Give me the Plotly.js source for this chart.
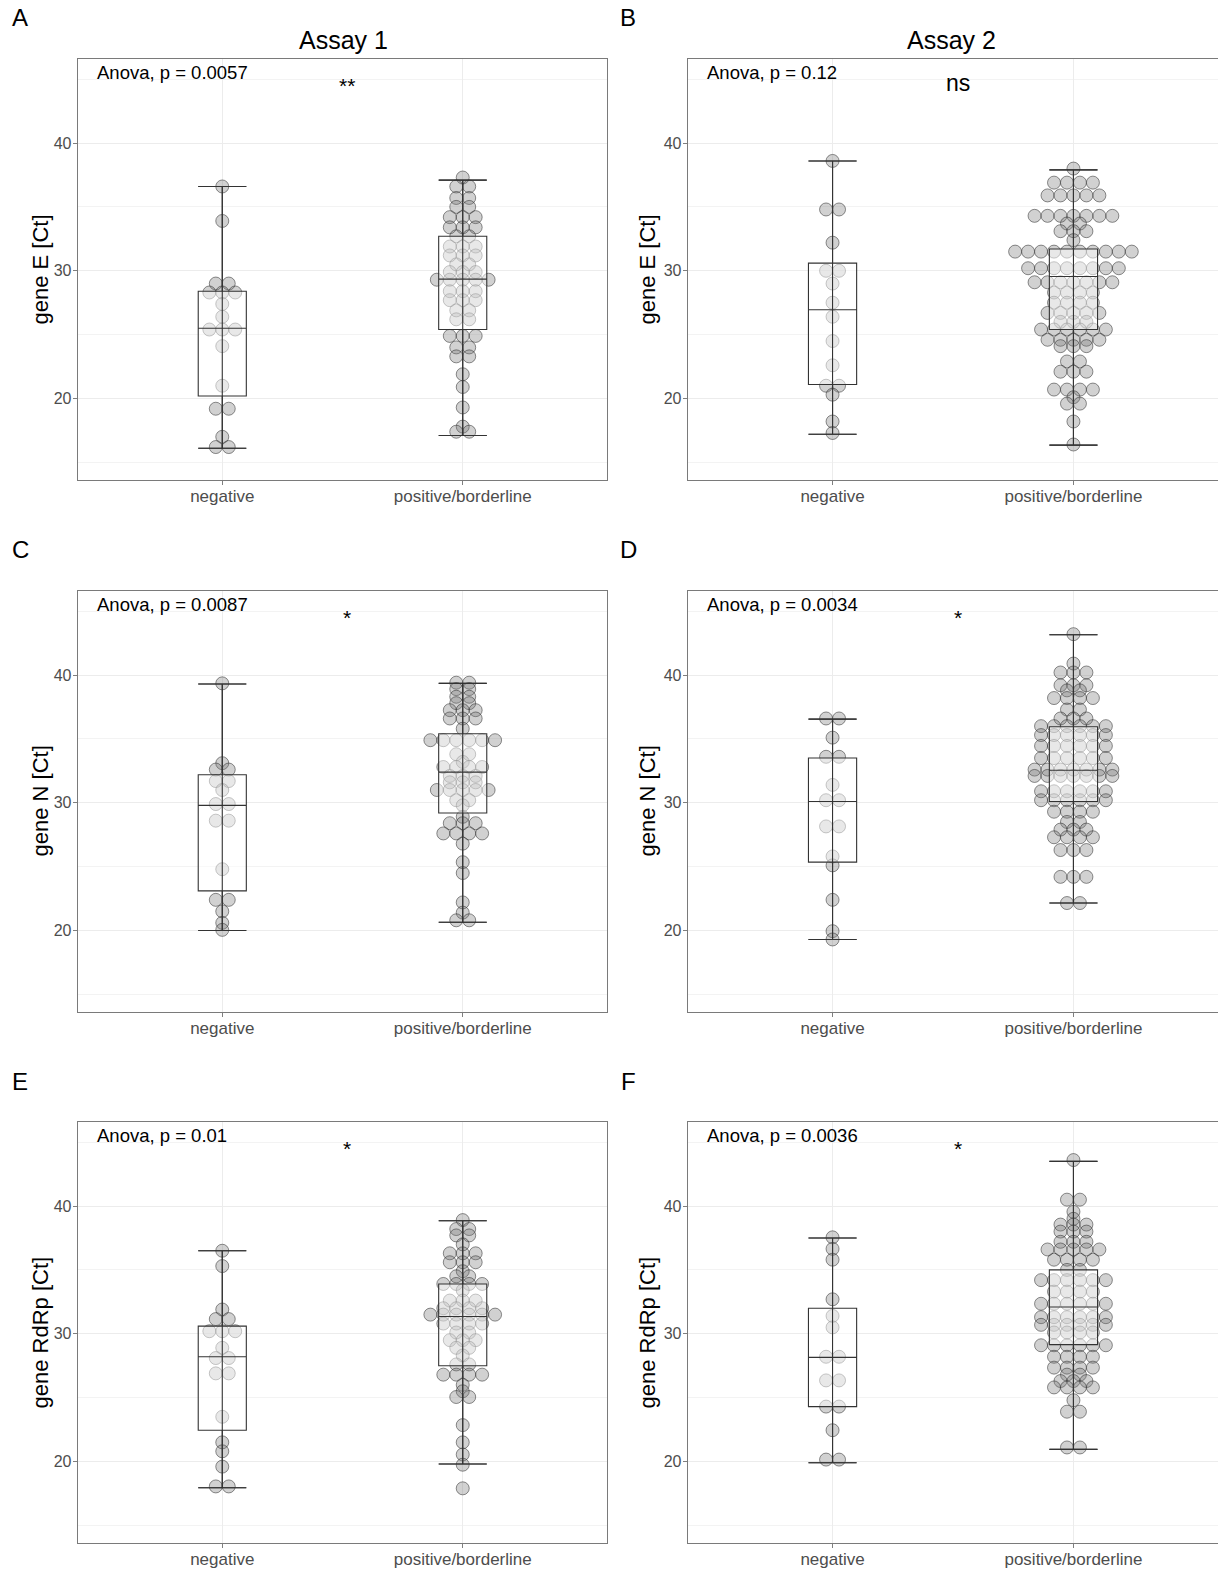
<!DOCTYPE html>
<html>
<head>
<meta charset="utf-8">
<script src="https://cdn.plot.ly/plotly-3.0.1.min.js"></script>
<style>html,body{margin:0;padding:0;background:#fff;}#chart{width:1218px;height:1573px;}</style>
</head>
<body>
<div id="chart"></div>
<script>
// ---------------- DATA ----------------
const categories = ['negative', 'positive/borderline'];
const yTicks = [20, 30, 40];
const panelLetters = ['A', 'B', 'C', 'D', 'E', 'F'];
const assayTitles = ['Assay 1', 'Assay 2'];
const yTitles = ['gene E [Ct]', 'gene E [Ct]', 'gene N [Ct]', 'gene N [Ct]', 'gene RdRp [Ct]', 'gene RdRp [Ct]'];
const anovaLabels = ['Anova, p = 0.0057', 'Anova, p = 0.12', 'Anova, p = 0.0087', 'Anova, p = 0.0034', 'Anova, p = 0.01', 'Anova, p = 0.0036'];
const sigLabels = ['**', 'ns', '*', '*', '*', '*'];

// Ct values (dot-plot bins), negative / positive groups
const A_neg = [36.6, 33.9, 29.0, 29.0, 28.3, 28.3, 28.3, 27.4, 26.4, 25.4, 25.4, 25.4, 24.1, 21.0, 19.2, 19.2, 17.0, 16.2, 16.2];
const A_pos = [37.3, 36.6, 36.6, 35.7, 35.7, 35.0, 35.0, 34.2, 34.2, 34.2, 33.4, 33.4, 33.4, 32.7, 32.7,
  31.9, 31.9, 31.9, 31.2, 31.2, 31.2, 30.5, 30.5, 29.9, 29.9, 29.9, 29.3, 29.3, 29.3, 29.3, 29.3,
  28.4, 28.4, 28.4, 27.7, 27.7, 27.7, 26.9, 26.9, 26.2, 26.2, 24.9, 24.9, 24.9, 24.0, 24.0, 23.3, 23.3,
  21.9, 20.9, 19.3, 17.8, 17.4, 17.4];
const B_neg = [38.6, 34.8, 34.8, 32.2, 30.0, 30.0, 29.0, 27.5, 26.4, 24.5, 22.6, 21.0, 21.0, 20.3, 18.2, 17.3];
const B_pos = [38.0, 36.9, 36.9, 36.9, 36.9, 35.9, 35.9, 35.9, 35.9, 35.9,
  34.3, 34.3, 34.3, 34.3, 34.3, 34.3, 34.3, 33.7, 33.7, 33.1, 33.1, 33.1, 32.4,
  31.5, 31.5, 31.5, 31.5, 31.5, 31.5, 31.5, 31.5, 31.5, 31.5,
  30.2, 30.2, 30.2, 30.2, 30.2, 30.2, 30.2, 30.2,
  29.1, 29.1, 29.1, 29.1, 29.1, 29.1, 29.1,
  28.3, 28.3, 28.3, 28.3, 27.5, 27.5, 27.5, 27.5, 26.7, 26.7, 26.7, 26.7, 26.7, 26.0, 26.0, 26.0,
  25.4, 25.4, 25.4, 25.4, 25.4, 25.4, 24.6, 24.6, 24.6, 24.6, 24.6, 24.1, 24.1, 24.1,
  22.9, 22.9, 22.1, 22.1, 22.1, 20.7, 20.7, 20.7, 20.7, 20.1, 19.6, 19.6, 18.2, 16.4];
const C_neg = [39.35, 33.1, 32.6, 32.6, 31.7, 31.7, 31.0, 29.9, 29.9, 28.6, 28.6, 24.8, 22.4, 22.4, 21.5, 20.6, 20.05];
const C_pos = [39.4, 39.4, 38.9, 38.9, 38.3, 38.3, 37.8, 37.8, 37.25, 37.25, 37.25, 36.6, 36.6, 36.6, 35.8,
  34.9, 34.9, 34.9, 34.9, 34.9, 34.9, 33.8, 33.8, 33.2, 32.8, 32.8, 32.8, 32.8, 32.1, 32.1, 32.1,
  31.6, 31.6, 31.6, 31.0, 31.0, 31.0, 31.0, 31.0, 30.2, 30.2, 29.8, 28.9, 28.4, 28.4, 28.4,
  27.6, 27.6, 27.6, 27.6, 26.8, 25.35, 24.5, 22.2, 21.4, 20.8, 20.8];
const D_neg = [36.6, 36.6, 35.1, 33.6, 33.6, 31.4, 30.2, 30.2, 28.15, 28.15, 25.8, 25.1, 22.4, 19.95, 19.3];
const D_pos = [43.2, 40.9, 40.2, 40.2, 40.2, 39.2, 39.2, 39.2, 38.8, 38.8, 38.2, 38.2, 38.2, 38.2, 37.3, 37.3,
  36.6, 36.6, 36.6, 36.0, 36.0, 36.0, 36.0, 36.0, 36.0, 35.3, 35.3, 35.3, 35.3, 35.3, 35.3,
  34.45, 34.45, 34.45, 34.45, 34.45, 34.45, 33.5, 33.5, 33.5, 33.5, 33.5, 33.5,
  32.6, 32.6, 32.6, 32.6, 32.6, 32.6, 32.6, 32.1, 32.1, 32.1, 32.1, 32.1, 32.1, 32.1,
  30.9, 30.9, 30.9, 30.9, 30.9, 30.9, 30.2, 30.2, 30.2, 30.2, 30.2, 30.2, 29.3, 29.3, 29.3, 29.3,
  28.5, 28.5, 27.9, 27.9, 27.9, 27.3, 27.3, 27.3, 27.3, 26.3, 26.3, 26.3, 24.2, 24.2, 24.2, 22.15, 22.15];
const E_neg = [36.5, 35.3, 31.9, 31.15, 31.15, 30.2, 30.2, 30.2, 28.9, 28.1, 28.1, 26.9, 26.9, 23.5, 21.5, 20.8, 19.6, 18.05, 18.05];
const E_pos = [38.9, 38.2, 38.2, 37.7, 37.7, 37.0, 36.3, 36.3, 36.3, 35.6, 35.6, 35.6, 34.9, 34.5, 34.5,
  33.9, 33.9, 33.9, 33.9, 33.4, 32.6, 32.6, 32.6, 32.0, 32.0, 32.0, 32.0, 31.5, 31.5, 31.5, 31.5, 31.5, 31.5,
  30.8, 30.8, 30.8, 30.8, 30.1, 30.1, 29.5, 29.5, 29.5, 28.9, 28.9, 28.3, 27.6, 27.6,
  26.8, 26.8, 26.8, 26.8, 26.0, 25.5, 25.05, 25.05, 22.85, 21.5, 20.55, 19.75, 17.9];
const F_neg = [37.55, 36.65, 35.8, 32.7, 31.4, 30.5, 28.2, 28.2, 26.35, 26.35, 24.3, 24.3, 22.45, 20.15, 20.15];
const F_pos = [43.6, 40.5, 40.5, 39.55, 39.0, 38.55, 38.55, 38.55, 38.0, 38.0, 38.0, 37.2, 37.2, 37.2,
  36.6, 36.6, 36.6, 36.6, 36.6, 35.8, 35.8, 35.8, 35.8, 35.0, 35.0,
  34.2, 34.2, 34.2, 34.2, 34.2, 34.2, 33.3, 33.3, 33.3, 33.3, 32.35, 32.35, 32.35, 32.35, 32.35, 32.35,
  31.3, 31.3, 31.3, 31.3, 31.3, 31.3, 30.7, 30.7, 30.7, 30.7, 30.7, 30.7, 30.1, 30.1, 30.1, 30.1,
  29.1, 29.1, 29.1, 29.1, 29.1, 29.1, 28.2, 28.2, 28.2, 28.2, 27.35, 27.35, 27.35, 27.35,
  26.8, 26.8, 26.3, 26.3, 26.3, 25.8, 25.8, 25.8, 25.8, 24.8, 23.9, 23.9, 21.1, 21.1];

// box statistics [lower whisker, q1, median, q3, upper whisker]
const A_box_neg = [16.1, 20.2, 25.5, 28.4, 36.6];
const A_box_pos = [17.1, 25.4, 29.35, 32.7, 37.1];
const B_box_neg = [17.2, 21.1, 26.95, 30.6, 38.6];
const B_box_pos = [16.35, 25.4, 29.55, 31.7, 37.9];
const C_box_neg = [20.0, 23.1, 29.8, 32.2, 39.3];
const C_box_pos = [20.65, 29.2, 32.4, 35.4, 39.35];
const D_box_neg = [19.3, 25.35, 30.1, 33.5, 36.55];
const D_box_pos = [22.15, 30.1, 32.55, 35.95, 43.15];
const E_box_neg = [17.95, 22.45, 28.2, 30.6, 36.5];
const E_box_pos = [19.8, 27.5, 31.35, 33.9, 38.85];
const F_box_neg = [19.9, 24.3, 28.15, 32.0, 37.5];
const F_box_pos = [20.95, 29.15, 32.1, 35.0, 43.5];

// ---------------- BUILD ----------------
const panels = [
  {neg: A_neg, pos: A_pos, bn: A_box_neg, bp: A_box_pos},
  {neg: B_neg, pos: B_pos, bn: B_box_neg, bp: B_box_pos},
  {neg: C_neg, pos: C_pos, bn: C_box_neg, bp: C_box_pos},
  {neg: D_neg, pos: D_pos, bn: D_box_neg, bp: D_box_pos},
  {neg: E_neg, pos: E_pos, bn: E_box_neg, bp: E_box_pos},
  {neg: F_neg, pos: F_pos, bn: F_box_neg, bp: F_box_pos}
];

const W = 1218, H = 1573;
const FONT = 'Liberation Sans, Arial, Helvetica, sans-serif';
const DOT_STEP = 0.0538;      // horizontal stacking step (x units)
const X_RANGE = [0.4, 2.6];
const Y_RANGE = [13.62, 46.58];
const colDomains = [[78 / W, 607 / W], [688 / W, 1]];
const rowPx = [[59, 480], [591, 1012], [1122, 1543]];

function stackX(values, center) {
  const counts = {}, seen = {};
  values.forEach(v => counts[v] = (counts[v] || 0) + 1);
  return values.map(v => {
    const n = counts[v];
    const i = seen[v] = (seen[v] || 0) + 1;
    return center + ((i - 1) - (n - 1) / 2) * DOT_STEP;
  });
}

const traces = [];
const layout = {
  width: W, height: H,
  margin: {l: 0, r: 0, t: 0, b: 0},
  paper_bgcolor: '#fff', plot_bgcolor: '#fff',
  showlegend: false,
  hovermode: false,
  font: {family: FONT, color: '#000'},
  annotations: []
};

panels.forEach((p, k) => {
  const col = k % 2, row = Math.floor(k / 2);
  const bi = k + 1, oi = k + 7;
  const bx = bi === 1 ? 'x' : 'x' + bi, by = bi === 1 ? 'y' : 'y' + bi;
  const ox = 'x' + oi, oy = 'y' + oi;
  const yd = [1 - rowPx[row][1] / H, 1 - rowPx[row][0] / H];

  layout['xaxis' + (bi === 1 ? '' : bi)] = {
    domain: colDomains[col], anchor: by, range: X_RANGE,
    tickmode: 'array', tickvals: [1, 2], ticktext: categories,
    tickfont: {size: 17, color: '#4d4d4d', family: FONT},
    ticks: 'outside', ticklen: 4, tickcolor: '#7f7f7f', tickwidth: 1,
    ticklabelstandoff: -4,
    showgrid: true, gridcolor: '#ececec', gridwidth: 1,
    zeroline: false, showline: true, mirror: true, linecolor: '#7a7a7a', linewidth: 1.3,
    fixedrange: true
  };
  layout['yaxis' + (bi === 1 ? '' : bi)] = {
    domain: yd, anchor: bx, range: Y_RANGE,
    tickmode: 'array', tickvals: yTicks,
    tickfont: {size: 16, color: '#4d4d4d', family: FONT},
    ticks: 'outside', ticklen: 4, tickcolor: '#7f7f7f', tickwidth: 1,
    ticklabelstandoff: -2,
    showgrid: true, gridcolor: '#ececec', gridwidth: 1,
    minor: {dtick: 5, tick0: 0, showgrid: true, gridcolor: '#f3f3f3', gridwidth: 1, ticks: ''},
    zeroline: false, showline: true, mirror: true, linecolor: '#7a7a7a', linewidth: 1.3,
    fixedrange: true
  };
  layout['xaxis' + oi] = {overlaying: bx, anchor: oy, range: X_RANGE, visible: false, fixedrange: true};
  layout['yaxis' + oi] = {overlaying: by, anchor: ox, range: Y_RANGE, visible: false, fixedrange: true};

  // dots (base subplot, beneath the boxes)
  [[p.neg, 1], [p.pos, 2]].forEach(([vals, c]) => {
    traces.push({
      type: 'scatter', mode: 'markers', xaxis: bx, yaxis: by,
      x: stackX(vals, c), y: vals,
      marker: {size: 13, color: 'rgba(115,115,115,0.33)', line: {color: 'rgba(40,40,40,0.52)', width: 1}},
      hoverinfo: 'skip', cliponaxis: false
    });
  });

  // boxes (overlay subplot, drawn above the dots)
  const stats = [p.bn, p.bp];
  traces.push({
    type: 'box', xaxis: ox, yaxis: oy,
    x: [1, 2],
    lowerfence: stats.map(s => s[0]), q1: stats.map(s => s[1]), median: stats.map(s => s[2]),
    q3: stats.map(s => s[3]), upperfence: stats.map(s => s[4]),
    width: 0.2, whiskerwidth: 1, boxpoints: false,
    fillcolor: 'rgba(255,255,255,0.5)', line: {color: '#333333', width: 1.1},
    hoverinfo: 'skip'
  });
  // whisker line running through the box (errorbar)
  traces.push({
    type: 'scatter', mode: 'markers', xaxis: ox, yaxis: oy,
    x: [1, 2], y: stats.map(s => s[2]),
    marker: {size: 1, color: 'rgba(0,0,0,0)'},
    error_y: {type: 'data', symmetric: false,
      array: stats.map(s => s[4] - s[2]), arrayminus: stats.map(s => s[2] - s[0]),
      width: 24, thickness: 1.1, color: '#333333'},
    hoverinfo: 'skip'
  });

  // annotations
  layout.annotations.push({
    xref: bx, yref: by, x: 0.47, y: 45.5, xanchor: 'left', yanchor: 'middle',
    text: anovaLabels[k], showarrow: false, font: {size: 18.5, color: '#000', family: FONT}
  });
  const isNs = sigLabels[k] === 'ns';
  layout.annotations.push({
    xref: bx, yref: by, x: 1.52, y: isNs ? 44.7 : 44.5, xanchor: 'center', yanchor: 'middle',
    text: sigLabels[k], showarrow: false, font: {size: isNs ? 23 : 21, color: '#000', family: FONT}
  });
  const yCenterPx = (rowPx[row][0] + rowPx[row][1]) / 2;
  layout.annotations.push({
    xref: 'paper', yref: 'paper', x: (col === 0 ? 40 : 647) / W, y: 1 - yCenterPx / H,
    xanchor: 'center', yanchor: 'middle', textangle: -90,
    text: yTitles[k], showarrow: false, font: {size: 22, color: '#000', family: FONT}
  });
  layout.annotations.push({
    xref: 'paper', yref: 'paper', x: (col === 0 ? 20 : 628) / W, y: 1 - (rowPx[row][0] - 41) / H,
    xanchor: 'center', yanchor: 'middle',
    text: panelLetters[k], showarrow: false, font: {size: 24, color: '#000', family: FONT}
  });
});

assayTitles.forEach((t, i) => {
  layout.annotations.push({
    xref: 'paper', yref: 'paper', x: (i === 0 ? 343 : 951) / W, y: 1 - 40 / H,
    xanchor: 'center', yanchor: 'middle',
    text: t, showarrow: false, font: {size: 25, color: '#000', family: FONT}
  });
});

Plotly.newPlot('chart', traces, layout, {staticPlot: true, displayModeBar: false});
</script>
</body>
</html>
